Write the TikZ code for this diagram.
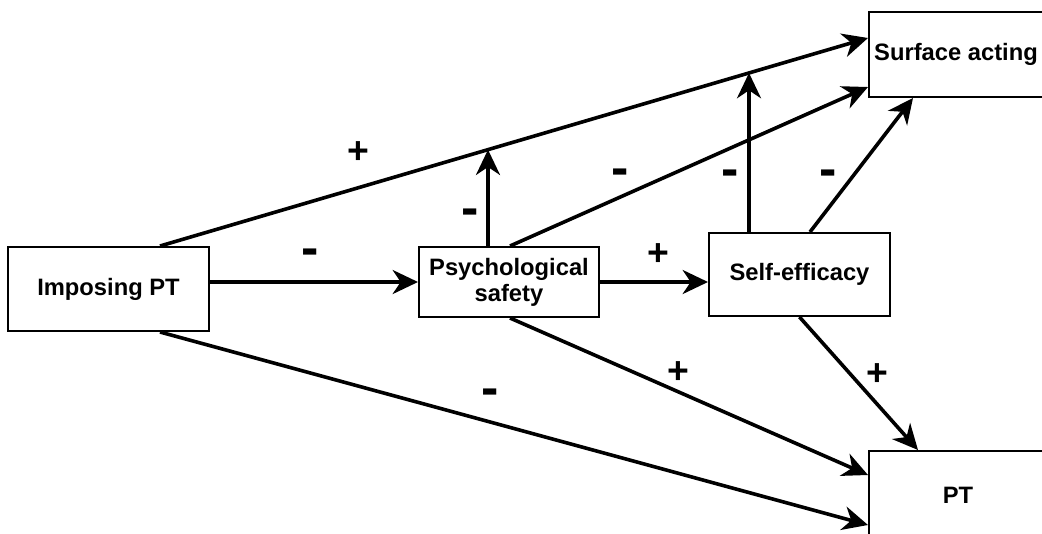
\documentclass[tikz,border=0pt]{standalone}
\usepackage{fontspec}
\setmainfont{Liberation Sans}
\usetikzlibrary{arrows.meta,calc}
\tikzset{
  box/.style={draw=black, line width=1.5pt, rectangle, inner sep=0pt, align=center,
    font=\fontsize{17.8}{19.5}\selectfont\bfseries},
  conn/.style={line width=2.7pt, -{Stealth[length=19pt,width=18pt,inset=6pt]}},
  plus/.style={inner sep=0pt, font=\fontsize{28}{28}\selectfont\bfseries},
  minus/.style={inner sep=0pt, font=\fontsize{39}{39}\selectfont\bfseries},
}
\begin{document}
\begin{tikzpicture}[x=0.75pt, y=-0.75pt]
\useasboundingbox (0,0) rectangle (1042,533);
% nodes
\node[box, minimum width=150.75pt, minimum height=63pt] (imp) at (108.5,289) {Imposing PT};
\node[box, minimum width=135pt, minimum height=52.5pt] (ps) at (509,282) {Psychological\\safety};
\node[box, minimum width=135.75pt, minimum height=62.25pt] (se) at (799.5,274.5) {Self-efficacy};
\node[box, minimum width=130.5pt, minimum height=63.75pt] (sa) at (956,54.5) {Surface acting};
\node[box, minimum width=130.5pt, minimum height=66.75pt] (pt) at (956,495.5) {};
\node[font=\fontsize{17.8}{19.5}\selectfont\bfseries, inner sep=0pt] (ptl) at (958,495) {PT};
% connector endpoints
\coordinate (s1) at ($(imp.north)+(51.5,0)$);
\coordinate (e1) at ($(sa.west)+(0,-16.5)$);
\coordinate (m1) at ($(s1)!0.4633!(e1)$);
\coordinate (m2) at ($(s1)!0.832!(e1)$);
\coordinate (s4) at ($(ps.north)+(-21,0)$);
\coordinate (s8) at ($(se.north)+(-50.5,0)$);
% connectors
\draw[conn] (s1) -- (e1);
\draw[conn] (imp.east |- ps.west) -- (ps.west);
\draw[conn] ($(imp.south)+(51.5,0)$) -- ($(pt.west)+(0,29.5)$);
\draw[conn] (s4) -- (s4 |- m1);
\draw[conn] ($(ps.north)+(1,0)$) -- ($(sa.west)+(0,32.5)$);
\draw[conn] (ps.east) -- (se.west |- ps.east);
\draw[conn] ($(ps.south)+(1,0)$) -- ($(pt.west)+(0,-20.5)$);
\draw[conn] (s8) -- (s8 |- m2);
\draw[conn] ($(se.north)+(10.5,0)$) -- ($(sa.south)+(-43,0)$);
\draw[conn] (se.south) -- ($(pt.north)+(-38,0)$);
% labels
\node[plus] (l1) at (358,153) {+};
\node[minus] (l2) at (310,257) {-};
\node[minus] (l3) at (470,217) {-};
\node[minus] (l4) at (620,177) {-};
\node[minus] (l5) at (730,178) {-};
\node[minus] (l6) at (828,178) {-};
\node[plus] (l7) at (658,255) {+};
\node[plus] (l8) at (678,373) {+};
\node[plus] (l9) at (877,375) {+};
\node[minus] (l10) at (490,397) {-};
\end{tikzpicture}
\end{document}
